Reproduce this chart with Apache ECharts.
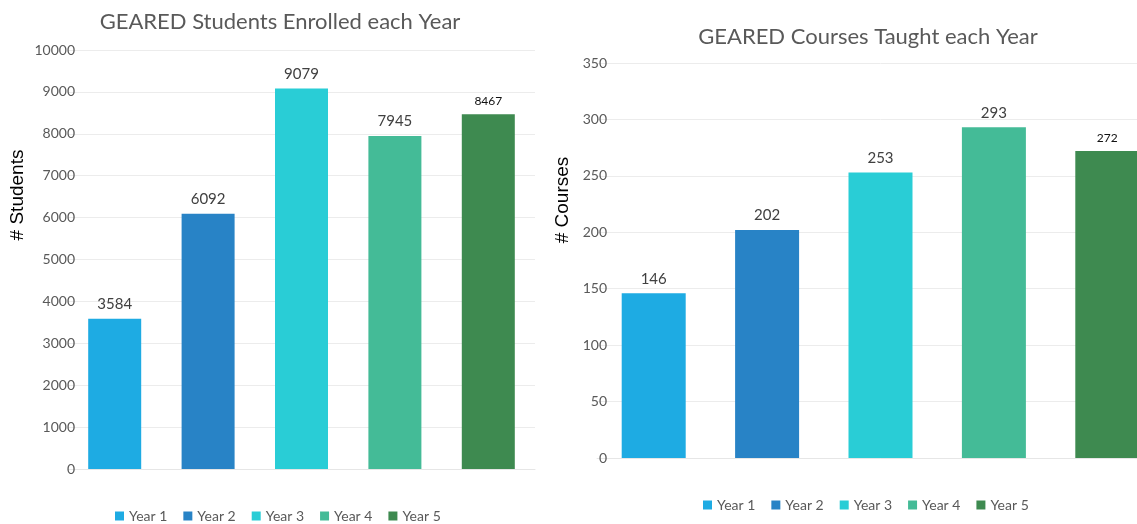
<!DOCTYPE html>
<html>
<head>
<meta charset="utf-8">
<script src="https://cdn.jsdelivr.net/npm/echarts@6/dist/echarts.min.js"></script>
<style>
  html, body { margin: 0; padding: 0; background: #fff; overflow: hidden; }
  /* a little wider than the window: the last bar of the right panel is cut off in the original */
  #chart { width: 1170px; height: 524px; }
</style>
</head>
<body>
<div id="chart"></div>
<script>
// data
const years = ['Year 1', 'Year 2', 'Year 3', 'Year 4', 'Year 5'];
const students = [3584, 6092, 9079, 7945, 8467];
const courses = [146, 202, 253, 293, 272];
const colors = ['#1eabe3', '#2883c6', '#29cdd6', '#44bb97', '#3e8a50'];

const font = 'Lato, "Open Sans", sans-serif';
const myChart = echarts.init(document.getElementById('chart'));

// one series per year so every bar gets its own legend entry
function yearSeries(values, axisIndex, barWidth) {
  return years.map((name, i) => ({
    name: name,
    type: 'bar',
    xAxisIndex: axisIndex,
    yAxisIndex: axisIndex,
    barWidth: barWidth,
    barGap: '-100%',
    itemStyle: { color: colors[i] },
    label: {
      show: true,
      position: 'top',
      distance: 7,
      fontFamily: font,
      // last bar label is smaller in the original
      fontSize: i === 4 ? 12 : 15,
      color: i === 4 ? '#111' : '#404040'
    },
    data: years.map((y, j) => (j === i ? values[i] : '-'))
  }));
}

const axisLabel = { fontFamily: font, fontSize: 14, color: '#595959', formatter: (v) => String(v) };
const legendText = { fontFamily: font, fontSize: 14, color: '#595959' };

const option = {
  animation: false,
  title: [
    {
      text: 'GEARED Students Enrolled each Year',
      left: 275, top: 6, textAlign: 'center',
      textStyle: { fontFamily: font, fontSize: 22, fontWeight: 'normal', color: '#595959' }
    },
    {
      text: 'GEARED Courses Taught each Year',
      left: 863, top: 21, textAlign: 'center',
      textStyle: { fontFamily: font, fontSize: 22, fontWeight: 'normal', color: '#595959' }
    }
  ],
  legend: [
    {
      data: years, left: 110, top: 504, itemWidth: 9, itemHeight: 9, itemGap: 16,
      icon: 'rect', textStyle: legendText
    },
    {
      data: years, left: 698, top: 493, itemWidth: 9, itemHeight: 9, itemGap: 16,
      icon: 'rect', textStyle: legendText
    }
  ],
  grid: [
    { left: 68, top: 50, width: 467, height: 419 },
    { left: 597, top: 63, width: 567, height: 395 }
  ],
  xAxis: [
    {
      type: 'category', gridIndex: 0, data: years,
      axisLine: { lineStyle: { color: '#e6e6e6' } },
      axisTick: { show: false }, axisLabel: { show: false }
    },
    {
      type: 'category', gridIndex: 1, data: years,
      axisLine: { lineStyle: { color: '#e6e6e6' } },
      axisTick: { show: false }, axisLabel: { show: false }
    }
  ],
  yAxis: [
    {
      type: 'value', gridIndex: 0, min: 0, max: 10000, interval: 1000,
      axisLabel: Object.assign({ margin: -7 }, axisLabel),
      splitLine: { lineStyle: { color: '#ececec' } }
    },
    {
      type: 'value', gridIndex: 1, min: 0, max: 350, interval: 50,
      axisLabel: Object.assign({ margin: -10 }, axisLabel),
      splitLine: { lineStyle: { color: '#ececec' } }
    }
  ],
  graphic: [
    {
      type: 'text', x: 18, y: 195, rotation: Math.PI / 2,
      style: {
        text: '# Students', font: '19px "Liberation Sans", Arial, sans-serif',
        fill: '#000', align: 'center', verticalAlign: 'middle'
      }
    },
    {
      type: 'text', x: 563, y: 200, rotation: Math.PI / 2,
      style: {
        text: '# Courses', font: '19px "Liberation Sans", Arial, sans-serif',
        fill: '#000', align: 'center', verticalAlign: 'middle'
      }
    }
  ],
  series: yearSeries(students, 0, 53).concat(yearSeries(courses, 1, 64))
};

myChart.setOption(option);

window.addEventListener('resize', () => {
  myChart.resize();
});
</script>
</body>
</html>
